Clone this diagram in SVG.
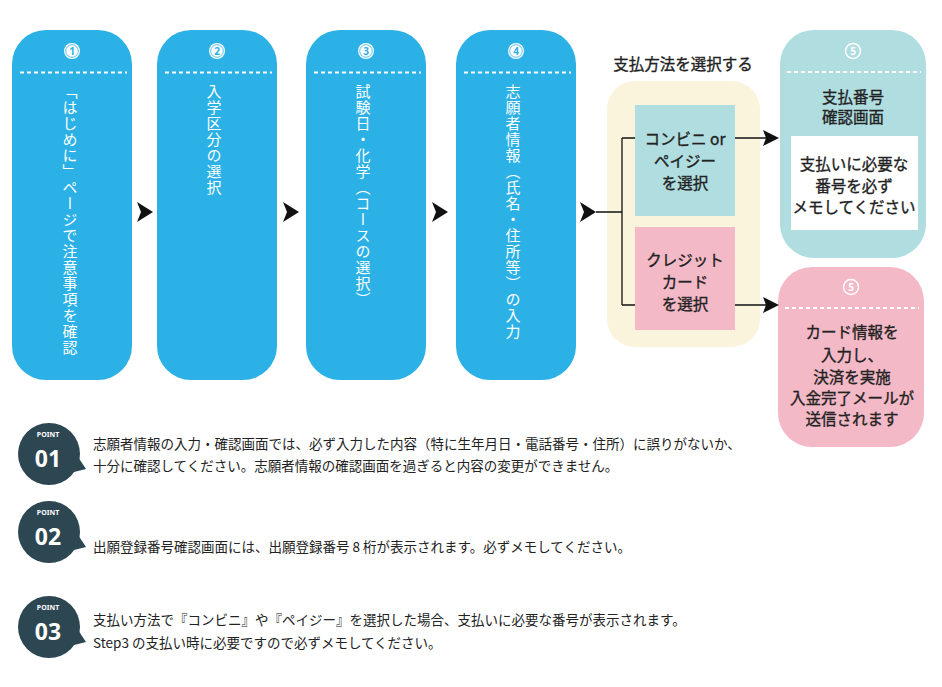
<svg xmlns="http://www.w3.org/2000/svg" width="942" height="687" viewBox="0 0 942 687">
<defs>
<style>
.step{fill:#2cb1e6}
.dash{stroke:#fff;stroke-width:2;stroke-dasharray:4 3;fill:none}
.vt{font-family:"Noto Sans CJK JP","Noto Sans",sans-serif;font-size:15px;fill:#fff;writing-mode:vertical-rl;letter-spacing:1px}
.num{font-family:"Noto Sans","Liberation Sans",sans-serif;font-size:10px;font-weight:bold;text-anchor:middle}
.t{font-family:"Noto Sans CJK JP","Noto Sans",sans-serif;fill:#222;stroke:#222;stroke-width:0.35;font-size:15.5px;text-anchor:middle}
.b{font-family:"Noto Sans CJK JP","Noto Sans",sans-serif;fill:#222;font-size:13.5px}
.chev{fill:#111}
.ln{stroke:#111;stroke-width:1.3;fill:none}
.badge{fill:#2c4652}
.pt{font-family:"Noto Sans","Liberation Sans",sans-serif;fill:#fff;font-weight:bold;text-anchor:middle}
</style>
</defs>
<rect width="942" height="687" fill="#fff"/>

<g id="step1">
<rect class="step" x="12" y="30" width="120" height="350" rx="34"/>
<circle cx="72" cy="51" r="8" fill="#fff"/><circle cx="72" cy="51" r="6.3" fill="none" stroke="#2cb1e6" stroke-width="0.8"/>
<text class="num" x="72" y="54.5" fill="#2cb1e6">1</text>
<line class="dash" x1="20" y1="72.5" x2="127" y2="72.5"/>
<text class="vt" x="70" y="84">「はじめに」ページで注意事項を確認</text>
</g>
<g id="step2">
<rect class="step" x="157" y="30" width="120" height="350" rx="34"/>
<circle cx="217" cy="51" r="8" fill="#fff"/><circle cx="217" cy="51" r="6.3" fill="none" stroke="#2cb1e6" stroke-width="0.8"/>
<text class="num" x="217" y="54.5" fill="#2cb1e6">2</text>
<line class="dash" x1="165" y1="72.5" x2="272" y2="72.5"/>
<text class="vt" x="214" y="84">入学区分の選択</text>
</g>
<g id="step3">
<rect class="step" x="306" y="30" width="120" height="350" rx="34"/>
<circle cx="366" cy="51" r="8" fill="#fff"/><circle cx="366" cy="51" r="6.3" fill="none" stroke="#2cb1e6" stroke-width="0.8"/>
<text class="num" x="366" y="54.5" fill="#2cb1e6">3</text>
<line class="dash" x1="314" y1="72.5" x2="421" y2="72.5"/>
<text class="vt" x="363" y="84">試験日・化学（コースの選択）</text>
</g>
<g id="step4">
<rect class="step" x="456" y="30" width="120" height="350" rx="34"/>
<circle cx="516" cy="51" r="8" fill="#fff"/><circle cx="516" cy="51" r="6.3" fill="none" stroke="#2cb1e6" stroke-width="0.8"/>
<text class="num" x="516" y="54.5" fill="#2cb1e6">4</text>
<line class="dash" x1="464" y1="72.5" x2="571" y2="72.5"/>
<text class="vt" x="513" y="84">志願者情報（氏名・住所等）の入力</text>
</g>

<g id="payment">
<text class="t" x="683" y="70">支払方法を選択する</text>
<rect x="607" y="81" width="153" height="266" rx="28" fill="#fbf4dc"/>
</g>
<g id="conbini">
<rect x="635" y="105" width="100" height="111" fill="#b0dde0"/>
<text class="t" x="685" y="145">コンビニ or</text>
<text class="t" x="685" y="167">ペイジー</text>
<text class="t" x="685" y="189">を選択</text>
</g>
<g id="credit">
<rect x="635" y="227" width="100" height="103" fill="#f4b9c6"/>
<text class="t" x="685" y="266">クレジット</text>
<text class="t" x="685" y="288">カード</text>
<text class="t" x="685" y="310">を選択</text>
</g>

<g id="step5a">
<rect x="780" y="30" width="146" height="228" rx="34" fill="#b0dde0"/>
<circle cx="853" cy="51" r="7.5" fill="none" stroke="#fff" stroke-width="1.5"/>
<text class="num" x="853" y="54.5" fill="#fff">5</text>
<line class="dash" x1="787" y1="72" x2="921" y2="72"/>
<text class="t" x="853" y="103">支払番号</text>
<text class="t" x="853" y="123">確認画面</text>
<rect x="791" y="136" width="127" height="94" fill="#fff"/>
<text class="t" x="854" y="170">支払いに必要な</text>
<text class="t" x="854" y="192">番号を必ず</text>
<text class="t" x="854" y="213">メモしてください</text>
</g>
<g id="step5b">
<rect x="778" y="267" width="146" height="180" rx="34" fill="#f4b9c6"/>
<circle cx="851" cy="287" r="7.5" fill="none" stroke="#fff" stroke-width="1.5"/>
<text class="num" x="851" y="290.5" fill="#fff">5</text>
<line class="dash" x1="785" y1="308" x2="919" y2="308"/>
<text class="t" x="852" y="338">カード情報を</text>
<text class="t" x="852" y="361">入力し、</text>
<text class="t" x="852" y="383">決済を実施</text>
<text class="t" x="852" y="404">入金完了メールが</text>
<text class="t" x="852" y="425">送信されます</text>
</g>

<g id="connectors">
<path class="chev" d="M137,202 L153,212 L137,222 L141,212 Z"/>
<path class="chev" d="M283,202 L299,212 L283,222 L287,212 Z"/>
<path class="chev" d="M432,202 L448,212 L432,222 L436,212 Z"/>
<path class="chev" d="M580,202 L596,212 L580,222 L584,212 Z"/>
<path class="ln" d="M596,212 H622 M622,138 V305 M622,138 H635 M622,305 H635 M735,138 H766 M735,305 H766"/>
<path class="chev" d="M763,130 L779,138 L763,146 L766,138 Z"/>
<path class="chev" d="M763,297 L779,305 L763,313 L766,305 Z"/>
</g>

<g id="point1">
<circle class="badge" cx="49" cy="454" r="31"/>
<path class="badge" d="M70,445 L86,469 L66,474 Z"/>
<text class="pt" x="48" y="437" font-size="7">POINT</text>
<text class="pt" x="48" y="467" font-size="23">01</text>
<text class="b" x="93" y="449">志願者情報の入力・確認画面では、必ず入力した内容（特に生年月日・電話番号・住所）に誤りがないか、</text>
<text class="b" x="93" y="471">十分に確認してください。志願者情報の確認画面を過ぎると内容の変更ができません。</text>
</g>
<g id="point2">
<circle class="badge" cx="49" cy="532" r="31"/>
<path class="badge" d="M70,523 L86,547 L66,552 Z"/>
<text class="pt" x="48" y="515" font-size="7">POINT</text>
<text class="pt" x="48" y="545" font-size="23">02</text>
<text class="b" x="93" y="552">出願登録番号確認画面には、出願登録番号 8 桁が表示されます。必ずメモしてください。</text>
</g>
<g id="point3">
<circle class="badge" cx="49" cy="627" r="31"/>
<path class="badge" d="M70,618 L86,642 L66,647 Z"/>
<text class="pt" x="48" y="610" font-size="7">POINT</text>
<text class="pt" x="48" y="640" font-size="23">03</text>
<text class="b" x="93" y="625">支払い方法で『コンビニ』や『ペイジー』を選択した場合、支払いに必要な番号が表示されます。</text>
<text class="b" x="93" y="648">Step3 の支払い時に必要ですので必ずメモしてください。</text>
</g>
</svg>
